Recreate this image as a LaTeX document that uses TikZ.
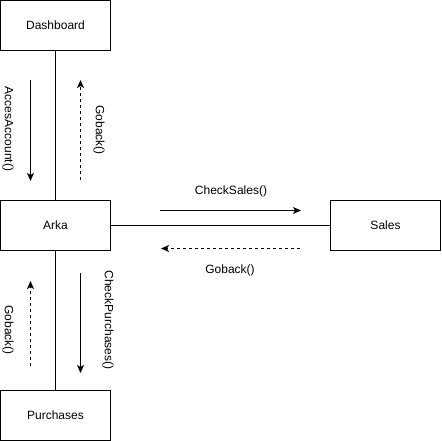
\documentclass[tikz,border=0pt]{standalone}
\usepackage{fontspec}
\setmainfont{Liberation Sans}
\usetikzlibrary{arrows.meta}
\begin{document}
\begin{tikzpicture}[x=1pt,y=1pt,
  box/.style={draw,line width=1pt,minimum width=110pt,minimum height=50pt,inner sep=0pt,font=\fontsize{12}{14}\selectfont},
  lbl/.style={font=\fontsize{12}{14}\selectfont,inner sep=0pt},
  link/.style={line width=1pt},
  msg/.style={line width=1pt,-{Stealth[length=8pt,width=7pt,inset=2pt]}},
  ret/.style={msg,dash pattern=on 3pt off 3pt}]
\useasboundingbox (0,0) rectangle (441,-441);
\node[box] (dash) at (55.5,-25.5) {Dashboard};
\node[box] (arka) at (55.5,-225.5) {Arka};
\node[box] (purch) at (55.5,-415.5) {Purchases};
\node[box] (sales) at (385.5,-225.5) {Sales};
\draw[link] (dash.south) -- (arka.north);
\draw[link] (arka.south) -- (purch.north);
\draw[link] (arka.east) -- (sales.west);
% top pair
\coordinate (a1) at (30.5,-80);
\coordinate (a2) at (30.5,-181);
\draw[msg] (a1) -- (a2);
\coordinate (b1) at (80.5,-180);
\coordinate (b2) at (80.5,-80);
\draw[ret] (b1) -- (b2);
\node[lbl,rotate=-90] (accl) at (8,-129) {AccesAccount()};
\node[lbl,rotate=-90] (gb1) at (99,-130) {Goback()};
% bottom pair
\coordinate (c1) at (30.5,-366);
\coordinate (c2) at (30.5,-281);
\draw[ret] (c1) -- (c2);
\coordinate (d1) at (80.5,-273);
\coordinate (d2) at (80.5,-373);
\draw[msg] (d1) -- (d2);
\node[lbl,rotate=-90] (gb2) at (8,-330) {Goback()};
\node[lbl,rotate=-90] (cpl) at (108,-320) {CheckPurchases()};
% horizontal pair
\coordinate (e1) at (160,-210.5);
\coordinate (e2) at (301,-210.5);
\draw[msg] (e1) -- (e2);
\coordinate (f1) at (300,-248.5);
\coordinate (f2) at (161,-248.5);
\draw[ret] (f1) -- (f2);
\node[lbl] (csl) at (231,-191) {CheckSales()};
\node[lbl] (gb3) at (230,-270) {Goback()};
\end{tikzpicture}
\end{document}
